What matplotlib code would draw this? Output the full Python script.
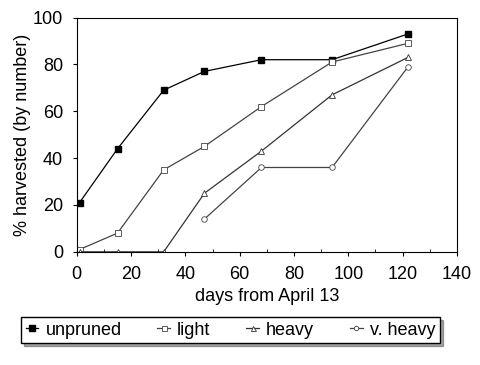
import matplotlib
matplotlib.use("Agg")
import matplotlib.pyplot as plt
from matplotlib.ticker import MultipleLocator

plt.rcParams['font.family'] = ['Liberation Sans', 'DejaVu Sans']

days = [1, 15, 32, 47, 68, 94, 122]
unpruned = [21, 44, 69, 77, 82, 82, 93]
light = [1, 8, 35, 45, 62, 81, 89]
heavy = [0, 0, 0, 25, 43, 67, 83]
vheavy_days = [47, 68, 94, 122]
vheavy = [14, 36, 36, 79]

fig = plt.figure(figsize=(4.8, 3.65), dpi=100)
ax = fig.add_axes([0.160, 0.310, 0.792, 0.642])

ax.plot(days, unpruned, color='black', lw=0.9, marker='s', ms=5,
        mfc='black', label='unpruned')
ax.plot(days, light, color='#444444', lw=0.9, marker='s', ms=4.5,
        mfc='white', mew=0.6, label='light')
ax.plot(days, heavy, color='#333333', lw=0.9, marker='^', ms=4.5,
        mfc='white', mew=0.6, label='heavy')
ax.plot(vheavy_days, vheavy, color='#444444', lw=0.9, marker='o', ms=4,
        mfc='white', mew=0.6, label='v. heavy')

ax.set_xlim(0, 140)
ax.set_ylim(0, 100)
ax.set_xticks(range(0, 141, 20))
ax.set_yticks(range(0, 101, 20))
ax.xaxis.set_minor_locator(MultipleLocator(10))
ax.tick_params(labelsize=13, direction='out', length=3, pad=7)
ax.tick_params(axis='x', which='minor', direction='in', length=2)
ax.set_xlabel('days from April 13', fontsize=13, labelpad=4)
ax.set_ylabel('% harvested (by number)', fontsize=13, labelpad=1)

leg = fig.legend(loc='lower left', bbox_to_anchor=(0.025, 0.035, 0.91, 0.075),
                 ncol=4, mode='expand', fontsize=13, frameon=True,
                 fancybox=False, shadow=True, handlelength=0.7,
                 handletextpad=0.4, columnspacing=0.5, borderpad=0.25,
                 markerscale=0.8)
leg.get_frame().set_edgecolor('black')

fig.savefig('out.png', dpi=100)
